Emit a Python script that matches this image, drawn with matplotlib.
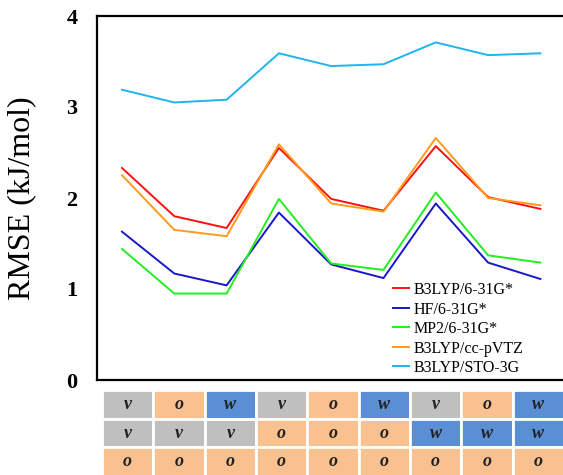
import matplotlib
matplotlib.use("Agg")
import matplotlib.pyplot as plt
from matplotlib.patches import Rectangle

plt.rcParams['font.family'] = ['Liberation Serif', 'DejaVu Serif']

# RMSE values (kJ/mol) for the 9 combinations
series_names = ["B3LYP/6-31G*", "HF/6-31G*", "MP2/6-31G*", "B3LYP/cc-pVTZ", "B3LYP/STO-3G"]
b3lyp_631 = [2.33, 1.80, 1.67, 2.55, 1.99, 1.86, 2.57, 2.01, 1.88]
hf_631 = [1.63, 1.17, 1.04, 1.84, 1.27, 1.12, 1.94, 1.29, 1.11]
mp2_631 = [1.44, 0.95, 0.95, 1.99, 1.28, 1.21, 2.06, 1.37, 1.29]
b3lyp_pvtz = [2.25, 1.65, 1.58, 2.59, 1.94, 1.85, 2.66, 2.00, 1.92]
b3lyp_sto = [3.19, 3.05, 3.08, 3.59, 3.45, 3.47, 3.71, 3.57, 3.59]
colors = ["#ff1010", "#1818c8", "#22ee22", "#ff9a1a", "#1eb4f0"]

# table under the chart
row1 = ["v", "o", "w", "v", "o", "w", "v", "o", "w"]
row2 = ["v", "v", "v", "o", "o", "o", "w", "w", "w"]
row3 = ["o", "o", "o", "o", "o", "o", "o", "o", "o"]
cell_colors = {"v": "#bfbfbf", "o": "#f9c090", "w": "#5a8fd6"}

W, H = 563, 475
fig = plt.figure(figsize=(W / 100, H / 100), dpi=100)

# main axes in pixel terms: left 97, right beyond the image, top 16, bottom 380
ax = fig.add_axes([97 / W, (H - 380) / H, (620 - 97) / W, (380 - 16) / H])
x = list(range(9))
for vals, name, c in zip([b3lyp_631, hf_631, mp2_631, b3lyp_pvtz, b3lyp_sto], series_names, colors):
    ax.plot(x, vals, color=c, lw=1.4, label=name)

ax.set_xlim(-25 / 52.3, (620 - 122) / 52.3)
ax.set_ylim(0, 4)
ax.set_yticks([0, 1, 2, 3, 4])
ax.set_yticklabels(["0", "1", "2", "3", "4"], fontweight="bold", fontsize=16)
ax.set_xticks([])
ax.tick_params(axis="y", length=0, pad=14)
for s in ["left", "top", "bottom"]:
    ax.spines[s].set_linewidth(1.6)
ax.spines["right"].set_visible(False)
ax.set_ylabel("RMSE (kJ/mol)", fontsize=23, labelpad=22)

ax.legend(loc="upper left", bbox_to_anchor=(393 / W, 1 - 282 / H), bbox_transform=fig.transFigure,
          frameon=False, fontsize=11.5, handlelength=1.0, handletextpad=0.3, labelspacing=0.22,
          borderaxespad=0, borderpad=0)

# table axes
tab = fig.add_axes([102 / W, (H - 476) / H, 462 / W, 86 / H])
tab.set_xlim(0, 9)
tab.set_ylim(3, 0)
tab.axis("off")
for r, row in enumerate([row1, row2, row3]):
    for i, lab in enumerate(row):
        tab.add_patch(Rectangle((i, r), 1, 1, facecolor=cell_colors[lab], edgecolor="white", lw=2))
        tab.text(i + 0.5, r + 0.5, lab, ha="center", va="center", fontsize=13,
                 style="italic", fontweight="bold", color="#222222")

fig.savefig("out.png", dpi=100)
